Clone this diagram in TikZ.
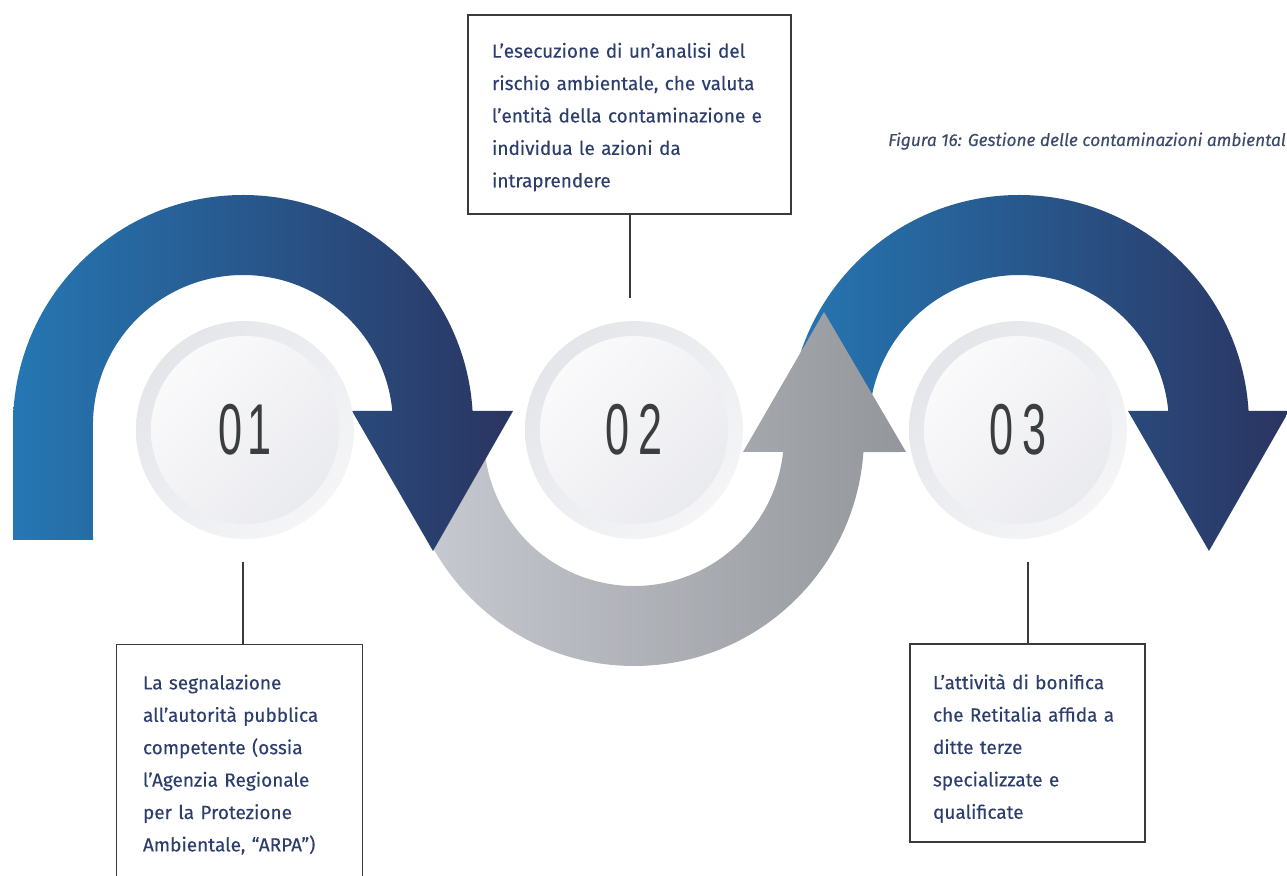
\documentclass[tikz,border=0pt]{standalone}
\usepackage{fontspec}
\usetikzlibrary{shadings}
\setmainfont{Fira Sans}[FakeBold=0.25]
\newfontfamily\numfont{Liberation Sans}
\definecolor{blueL}{HTML}{2577B3}
\definecolor{navy}{HTML}{2B3461}
\definecolor{grayL}{HTML}{C9CBD2}
\definecolor{grayR}{HTML}{93969B}
\definecolor{txt}{HTML}{2D3E6C}
\definecolor{capt}{HTML}{3E4A6A}
\definecolor{boxline}{HTML}{3A3A3A}
\definecolor{digit}{HTML}{3B3E40}
\definecolor{ringA}{HTML}{E1E2E7}
\definecolor{ringB}{HTML}{F8F8FA}
\definecolor{ringM}{HTML}{EDEEF1}
\definecolor{discB}{HTML}{E5E6EB}
\definecolor{discM}{HTML}{F2F2F5}
\begin{document}
\begin{tikzpicture}[x=1pt,y=1pt,
  numdisc/.style={circle, minimum size=218pt, inner sep=0pt,
    upper left=ringA, lower right=ringB, upper right=ringM, lower left=ringM,
    path picture={\shade[upper left=white, lower right=discB, upper right=discM, lower left=discM]
      (path picture bounding box.center) circle (94pt);},
    font=\numfont\fontsize{72}{72}\selectfont, text=digit},
  textbox/.style={draw=boxline, line width=1.3pt, align=left, inner ysep=0pt,
    font=\fontsize{19}{32.4}\selectfont, text=txt},
  conn/.style={draw=boxline, line width=1.3pt}
]
\useasboundingbox (0,0) rectangle (1287,875);
% arc 3 (blue, right)
\shade[left color=blueL, right color=navy]
  (789,450) arc[start angle=180, end angle=3.5, radius=230]
  -- (1289,464) -- (1209,324) -- (1128,464) -- (1168.3,464)
  arc[start angle=5.36, end angle=180, radius=150] -- cycle;
% gray arc (middle)
\shade[left color=grayL, right color=grayR]
  (404,439) arc[start angle=180, end angle=356.0, radius=230]
  -- (906,423) -- (824,563) -- (743,423) -- (783.1,423)
  arc[start angle=353.88, end angle=180, radius=150] -- cycle;
% arc 1 (blue, left)
\shade[left color=blueL, right color=navy]
  (13,335) -- (13,450) arc[start angle=180, end angle=3.5, radius=230]
  -- (513,464) -- (433,324) -- (352,464) -- (392.3,464)
  arc[start angle=5.36, end angle=180, radius=150] -- (93,335) -- cycle;
% number discs
\node[numdisc] (n1) at (245,445) {\scalebox{0.6}[1]{0\hspace{8pt}1}};
\node[numdisc] (n2) at (634,445) {\scalebox{0.6}[1]{0\hspace{14pt}2}};
\node[numdisc] (n3) at (1018,445) {\scalebox{0.6}[1]{0\hspace{14pt}3}};
% text boxes
\node[textbox, minimum width=323pt, minimum height=199pt, inner xsep=24pt, text width=275pt] (b2) at (629.5,760.5)
  {\rule{0pt}{20pt}L’esecuzione di un’analisi del\\rischio ambientale, che valuta\\l’entità della contaminazione e\\individua le azioni da\\intraprendere};
\node[textbox, draw=none, minimum width=245pt, minimum height=230pt, inner xsep=26pt, text width=193pt] (b1) at (239.5,115)
  {\rule{0pt}{24pt}La segnalazione\\all’autorità pubblica\\competente (ossia\\l’Agenzia Regionale\\per la Protezione\\Ambientale, “ARPA”)};
\draw[conn] (b1.south west) -- (b1.north west) -- (b1.north east) -- (b1.south east);
\node[textbox, minimum width=235pt, minimum height=198pt, inner xsep=23pt, text width=189pt] (b3) at (1027.5,132)
  {\rule{0pt}{26pt}L’attività di bonifica\\che Retitalia affida a\\ditte terze\\specializzate e\\qualificate};
% connectors
\coordinate (c1) at (243,313);
\coordinate (c2) at (630,577);
\coordinate (c3) at (1028,313);
\draw[conn] (c1) -- (c1 |- b1.north);
\draw[conn] (c2) -- (c2 |- b2.south);
\draw[conn] (c3) -- (c3 |- b3.north);
% caption
\node[anchor=base west, inner sep=0pt, font=\itshape\fontsize{17.3}{20}\selectfont, text=capt] (cap) at (888,729)
  {Figura 16: Gestione delle contaminazioni ambiental};
\end{tikzpicture}
\end{document}
